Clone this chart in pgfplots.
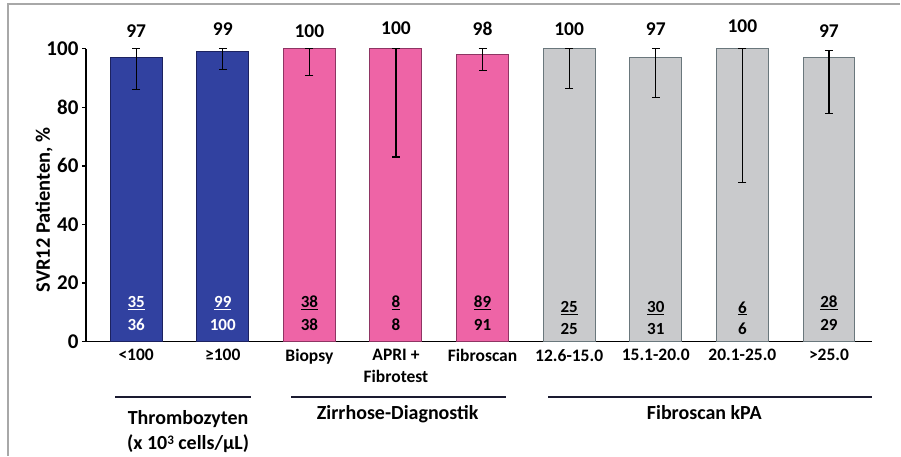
\documentclass[border=0pt]{standalone}
\usepackage{pgfplots}
\pgfplotsset{compat=1.18}
\usepackage{fontspec}
\setmainfont{Carlito}
\definecolor{barblue}{HTML}{3141A0}
\definecolor{barblueedge}{HTML}{1C2260}
\definecolor{barpink}{HTML}{EE64A6}
\definecolor{barpinkedge}{HTML}{8E3563}
\definecolor{bargrey}{HTML}{C9CACC}
\definecolor{bargreyedge}{HTML}{6A777C}
\definecolor{framegrey}{HTML}{A8A8A8}
\definecolor{grpline}{HTML}{1A1A30}
\newcommand{\fs}[1]{\fontsize{#1}{#1}\selectfont\bfseries}
\begin{document}
\begin{tikzpicture}[x=1pt,y=1pt]
\path (0,0) rectangle (901,456);
\draw[framegrey, line width=1.5pt] (8,0) -- (8,452) -- (901,452);
\node[rotate=90, font=\fs{20.5}] at (44,246) {SVR12 Patienten, \%};
\begin{axis}[
  at={(86pt,114pt)}, anchor=south west,
  scale only axis, width=787pt, height=293.3pt,
  axis lines=left, axis line style={-, black, line width=1.3pt},
  xmin=-0.58, xmax=8.5, ymin=0, ymax=100,
  ytick={0,20,40,60,80,100},
  tick align=outside,
  y tick style={black, line width=1.3pt}, major tick length=4pt,
  x tick style={draw=none},
  xtick={0,1,2,3,4,5,6,7,8},
  xticklabels={{<100},{≥100},{Biopsy},{APRI +\\Fibrotest},{Fibroscan},{12.6-15.0},{15.1-20.0},{20.1-25.0},{>25.0}},
  xticklabel style={font=\fontsize{17.5}{22}\selectfont\bfseries, align=center, yshift=0pt},
  yticklabel style={font=\fs{21}, xshift=0pt},
  /pgf/number format/assume math mode=true,
  ybar, bar width=0.6, bar shift=0pt,
  clip=false,
  error bars/y dir=both, error bars/y explicit,
  error bars/error bar style={black, line width=1.2pt},
  error bars/error mark options={rotate=90, mark size=4pt, black, line width=1.2pt},
]
\addplot[fill=barblue, draw=barblueedge, line width=1pt] coordinates {
  (0,97) += (0,3) -= (0,11)
  (1,99) += (0,1) -= (0,6)
};
\addplot[fill=barpink, draw=barpinkedge, line width=1pt] coordinates {
  (2,100) += (0,0) -= (0,9.2)
  (3,100) += (0,0) -= (0,37)
  (4,98) += (0,2) -= (0,5.5)
};
\addplot[fill=bargrey, draw=bargreyedge, line width=1pt] coordinates {
  (5,100) += (0,0) -= (0,13.7)
  (6,97) += (0,3) -= (0,13.6)
  (7,100) += (0,0) -= (0,45.8)
  (8,97) += (0,2.3) -= (0,19)
};
% values above bars
\node[font=\fs{19.5}] at (axis cs:0,105.9) {97};
\node[font=\fs{19.5}] at (axis cs:1,106.5) {99};
\node[font=\fs{19.5}] at (axis cs:2,106.1) {100};
\node[font=\fs{19.5}] at (axis cs:3,107.1) {100};
\node[font=\fs{19.5}] at (axis cs:4,106.7) {98};
\node[font=\fs{19.5}] at (axis cs:5,106.7) {100};
\node[font=\fs{19.5}] at (axis cs:6,106.7) {97};
\node[font=\fs{19.5}] at (axis cs:7,107.6) {100};
\node[font=\fs{19.5}] at (axis cs:8,105.9) {97};
% counts inside bars
\node[font=\fs{17}, white] at (axis cs:0,13.3) {\underline{35}};
\node[font=\fs{17}, white] at (axis cs:0,5.8) {36};
\node[font=\fs{17}, white] at (axis cs:1,13.3) {\underline{99}};
\node[font=\fs{17}, white] at (axis cs:1,5.8) {100};
\node[font=\fs{17}] at (axis cs:2,13.3) {\underline{38}};
\node[font=\fs{17}] at (axis cs:2,5.8) {38};
\node[font=\fs{17}] at (axis cs:3,13.3) {\underline{8}};
\node[font=\fs{17}] at (axis cs:3,5.8) {8};
\node[font=\fs{17}] at (axis cs:4,13.3) {\underline{89}};
\node[font=\fs{17}] at (axis cs:4,5.8) {91};
\node[font=\fs{17}] at (axis cs:5,11.4) {\underline{25}};
\node[font=\fs{17}] at (axis cs:5,4.3) {25};
\node[font=\fs{17}] at (axis cs:6,11.4) {\underline{30}};
\node[font=\fs{17}] at (axis cs:6,4.3) {31};
\node[font=\fs{17}] at (axis cs:7,11.4) {\underline{6}};
\node[font=\fs{17}] at (axis cs:7,4.3) {6};
\node[font=\fs{17}] at (axis cs:8,13.3) {\underline{28}};
\node[font=\fs{17}] at (axis cs:8,5.8) {29};
% group lines and labels
\draw[grpline, line width=1.5pt] (axis cs:-0.24,-18.8) -- (axis cs:1.33,-18.8);
\draw[grpline, line width=1.5pt] (axis cs:1.79,-18.8) -- (axis cs:4.27,-18.8);
\draw[grpline, line width=1.5pt] (axis cs:4.76,-18.8) -- (axis cs:8.50,-18.8);
\node[font=\fs{20}] at (axis cs:0.60,-26.4) {Thrombozyten};
\node[font=\fs{20}] at (axis cs:0.60,-34.8) {(x 10\raisebox{0.55ex}{\fontsize{13}{13}\selectfont 3} cells/µL)};
\node[font=\fs{20}] at (axis cs:3.02,-24.6) {Zirrhose-Diagnostik};
\node[font=\fs{20}] at (axis cs:6.56,-24.3) {Fibroscan kPA};
\end{axis}
\end{tikzpicture}
\end{document}
